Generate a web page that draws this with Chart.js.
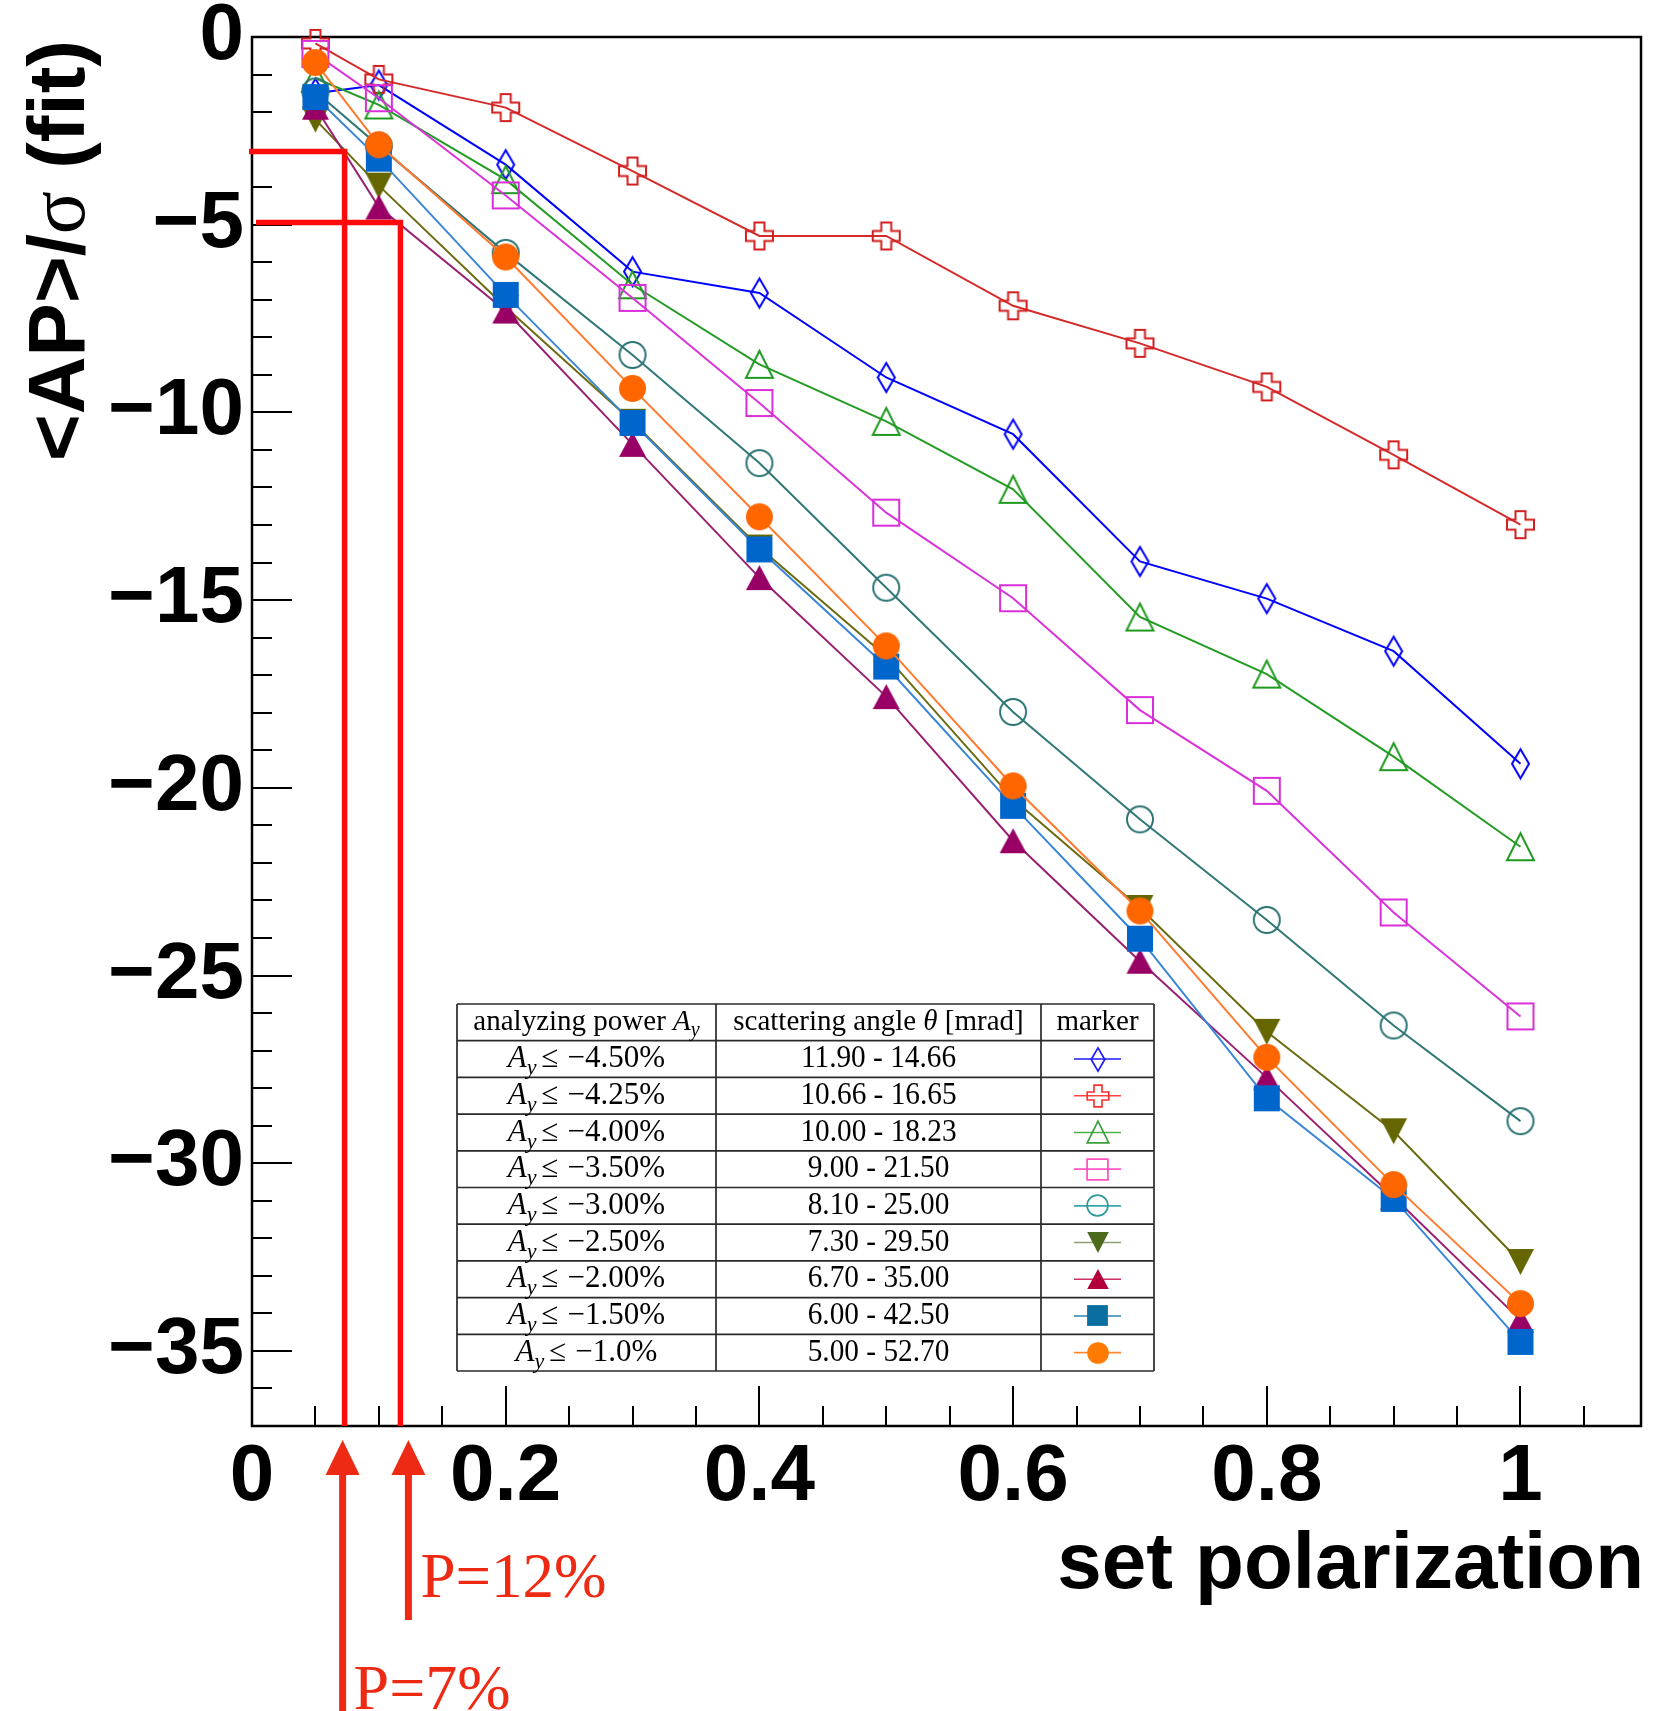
<!DOCTYPE html>
<html>
<head>
<meta charset="utf-8">
<script src="https://cdn.jsdelivr.net/npm/chart.js@4.4.1/dist/chart.umd.min.js"></script>
<style>
html,body{margin:0;padding:0;background:#fff;}
#wrap{position:relative;width:1667px;height:1711px;overflow:hidden;}
canvas{display:block;}
</style>
</head>
<body>
<div id="wrap"><canvas id="c" width="1667" height="1711"></canvas></div>
<script>
// ---------------- data ----------------
const polarization = [0.05, 0.1, 0.2, 0.3, 0.4, 0.5, 0.6, 0.7, 0.8, 0.9, 1.0];

const apAy450 = [-1.50, -1.28, -3.40, -6.25, -6.82, -9.07, -10.58, -13.97, -14.96, -16.36, -19.36];
const apAy425 = [-0.17, -1.13, -1.88, -3.57, -5.30, -5.30, -7.16, -8.16, -9.32, -11.13, -12.99];
const apAy400 = [-1.10, -1.81, -3.80, -6.60, -8.72, -10.24, -12.05, -15.45, -16.97, -19.17, -21.57];
const apAy350 = [-0.45, -1.63, -4.22, -6.95, -9.75, -12.67, -14.95, -17.93, -20.08, -23.32, -26.09];
const apAy300 = [-1.45, -2.90, -5.75, -8.47, -11.35, -14.67, -17.98, -20.84, -23.52, -26.33, -28.88];
const apAy250 = [-2.20, -3.96, -7.20, -10.25, -13.60, -16.50, -20.30, -23.20, -26.50, -29.15, -32.63];
const apAy200 = [-1.87, -4.53, -7.30, -10.85, -14.40, -17.57, -21.41, -24.62, -27.72, -30.90, -34.18];
const apAy150 = [-1.60, -3.24, -6.87, -10.28, -13.65, -16.77, -20.48, -24.02, -28.27, -30.95, -34.76];
const apAy100 = [-0.68, -2.87, -5.86, -9.36, -12.78, -16.22, -19.95, -23.28, -27.18, -30.57, -33.74];

const cutLabels = ['−4.50%', '−4.25%', '−4.00%', '−3.50%', '−3.00%', '−2.50%', '−2.00%', '−1.50%', '−1.0%'];
const angleRanges = ['11.90 - 14.66', '10.66 - 16.65', '10.00 - 18.23', '9.00 - 21.50', '8.10 - 25.00',
                     '7.30 - 29.50', '6.70 - 35.00', '6.00 - 42.50', '5.00 - 52.70'];

const xMajorTicks = [0, 0.2, 0.4, 0.6, 0.8, 1];
const xTickLabels = ['0', '0.2', '0.4', '0.6', '0.8', '1'];
const yMajorTicks = [0, -5, -10, -15, -20, -25, -30, -35];
const yTickLabels = ['0', '−5', '−10', '−15', '−20', '−25', '−30', '−35'];

const markedPolarization = [0.073, 0.117];
const markedSignificance = [-3.05, -4.94];
const markedLabels = ['P=7%', 'P=12%'];

const allSeries = [apAy450, apAy425, apAy400, apAy350, apAy300, apAy250, apAy200, apAy150, apAy100];

// ---------------- styles ----------------
const seriesStyles = [
  {color: '#0000ff', line: '#0000ff', marker: 'diamond'},
  {color: '#d21e1e', line: '#d42a2a', marker: 'cross'},
  {color: '#1f9a1f', line: '#249c24', marker: 'triOpen'},
  {color: '#d92ed9', line: '#d933d9', marker: 'squareOpen'},
  {color: '#2e7474', line: '#307777', marker: 'circleOpen'},
  {color: '#666600', line: '#6b6b12', marker: 'triDown'},
  {color: '#990066', line: '#992070', marker: 'triUp'},
  {color: '#0066cc', line: '#3a86d6', marker: 'square'},
  {color: '#ff6600', line: '#ff7a2e', marker: 'circle'}
];
const legendStyles = [
  {line: '#1a1aff', mark: '#1a1aff'},
  {line: '#ff4545', mark: '#ff3030'},
  {line: '#4caf50', mark: '#3d9e3d'},
  {line: '#ff55c4', mark: '#ff4fc0'},
  {line: '#3aa6a6', mark: '#2f9a9a'},
  {line: '#90a070', mark: '#4b6a1c'},
  {line: '#d0306a', mark: '#b3003b'},
  {line: '#2a80b0', mark: '#0a6fa0'},
  {line: '#ff8a30', mark: '#ff7a00'}
];

const MARKER_DIMS = {
  diamond: [17, 29], cross: [27, 27], triOpen: [27, 27], squareOpen: [26, 26], circleOpen: [26, 26],
  triDown: [27, 26], triUp: [27, 25], square: [26, 26], circle: [27, 27]
};

function makeMarker(kind, color, k, lw) {
  const pad = 3;
  const d = MARKER_DIMS[kind];
  const w = d[0] * k, h = d[1] * k;
  const c = document.createElement('canvas');
  c.width = Math.round(w + 2 * pad);
  c.height = Math.round(h + 2 * pad);
  const g = c.getContext('2d');
  g.translate(c.width / 2, c.height / 2);
  g.strokeStyle = color; g.fillStyle = color; g.lineWidth = lw; g.lineJoin = 'miter';
  const hw = w / 2, hh = h / 2;
  let filled = false;
  g.beginPath();
  switch (kind) {
    case 'diamond':
      g.moveTo(0, -hh); g.lineTo(hw, 0); g.lineTo(0, hh); g.lineTo(-hw, 0); g.closePath(); break;
    case 'cross': {
      const a = 5 * k;
      g.moveTo(-a, -hh); g.lineTo(a, -hh); g.lineTo(a, -a); g.lineTo(hw, -a); g.lineTo(hw, a);
      g.lineTo(a, a); g.lineTo(a, hh); g.lineTo(-a, hh); g.lineTo(-a, a); g.lineTo(-hw, a);
      g.lineTo(-hw, -a); g.lineTo(-a, -a); g.closePath(); break;
    }
    case 'triOpen': case 'triUp':
      g.moveTo(0, -hh); g.lineTo(hw, hh); g.lineTo(-hw, hh); g.closePath(); filled = kind === 'triUp'; break;
    case 'triDown':
      g.moveTo(-hw, -hh); g.lineTo(hw, -hh); g.lineTo(0, hh); g.closePath(); filled = true; break;
    case 'squareOpen': case 'square':
      g.rect(-hw, -hh, w, h); filled = kind === 'square'; break;
    case 'circleOpen': case 'circle':
      g.arc(0, 0, hw, 0, Math.PI * 2); filled = kind === 'circle'; break;
  }
  if (filled) g.fill(); else g.stroke();
  return c;
}

const datasets = allSeries.map((vals, i) => ({
  label: 'A_y ≤ ' + cutLabels[i],
  data: polarization.map((p, j) => ({x: p, y: vals[j]})),
  borderColor: seriesStyles[i].line,
  backgroundColor: seriesStyles[i].color,
  borderWidth: 2,
  pointStyle: makeMarker(seriesStyles[i].marker, seriesStyles[i].color, 1, 2),
  pointRadius: 14,
  pointHoverRadius: 14,
  tension: 0,
  fill: false,
  clip: false,
  order: allSeries.length - i
}));

const SANS = 'Liberation Sans, Arial, Helvetica, sans-serif';
const SERIF = 'Liberation Serif, Times New Roman, serif';

function drawRuns(ctx, runs, cx, baseline, sx, align) {
  let total = 0;
  runs.forEach(r => { ctx.font = r.font; r.w = ctx.measureText(r.t).width + (r.gap || 0); total += r.w; });
  ctx.save();
  ctx.translate(cx, baseline);
  ctx.scale(sx, 1);
  let x = align === 'left' ? 0 : -total / 2;
  ctx.textAlign = 'left';
  ctx.textBaseline = 'alphabetic';
  runs.forEach(r => {
    ctx.font = r.font;
    ctx.fillText(r.t, x + (r.pre || 0), r.dy || 0);
    x += r.w;
  });
  ctx.restore();
}

const framePlugin = {
  id: 'rootFrame',
  beforeDatasetsDraw(chart) {
    const {ctx, chartArea: a, scales: {x, y}} = chart;
    ctx.save();
    ctx.strokeStyle = '#000';
    ctx.lineWidth = 2.5;
    ctx.strokeRect(a.left, a.top, a.right - a.left, a.bottom - a.top);
    ctx.lineWidth = 2;
    ctx.beginPath();
    for (let v = 0; v >= y.min; v -= 1) {
      const py = Math.round(y.getPixelForValue(v));
      const len = (v % 5 === 0) ? 40 : 20;
      ctx.moveTo(a.left, py); ctx.lineTo(a.left + len, py);
    }
    for (let k = 0; k * 0.05 <= x.max + 1e-9; k++) {
      const px = Math.round(x.getPixelForValue(k * 0.05));
      const len = (k % 4 === 0) ? 40 : 20;
      ctx.moveTo(px, a.bottom); ctx.lineTo(px, a.bottom - len);
    }
    ctx.stroke();
    ctx.restore();
  },
  afterDraw(chart) {
    const {ctx, chartArea: a, scales: {x, y}} = chart;
    ctx.save();

    // ---- axis titles ----
    ctx.fillStyle = '#000';
    ctx.font = 'bold 80px ' + SANS;
    ctx.textAlign = 'right';
    ctx.textBaseline = 'alphabetic';
    ctx.fillText('set polarization', 1644, 1588);

    ctx.save();
    ctx.translate(84, 40);
    ctx.rotate(-Math.PI / 2);
    const tr = [
      {t: '<AP>/', font: 'bold 80px ' + SANS},
      {t: 'σ', font: '80px ' + SERIF},
      {t: ' (fit)', font: 'bold 80px ' + SANS}
    ];
    let tot = 0;
    tr.forEach(r => { ctx.font = r.font; r.w = ctx.measureText(r.t).width; tot += r.w; });
    let tx = -tot;
    ctx.textAlign = 'left';
    tr.forEach(r => { ctx.font = r.font; ctx.fillText(r.t, tx, 0); tx += r.w; });
    ctx.restore();

    // ---- legend table ----
    const cols = [457, 716, 1041, 1154];
    const top = 1004, rowH = 36.7, nRows = allSeries.length + 1;
    const bottom = top + rowH * nRows;
    ctx.fillStyle = '#fff';
    ctx.fillRect(cols[0], top, cols[3] - cols[0], bottom - top);
    ctx.strokeStyle = '#2a2a2a';
    ctx.lineWidth = 1.7;
    ctx.beginPath();
    for (let r = 0; r <= nRows; r++) {
      const yy = top + r * rowH;
      ctx.moveTo(cols[0], yy); ctx.lineTo(cols[3], yy);
    }
    cols.forEach(cx => { ctx.moveTo(cx, top); ctx.lineTo(cx, bottom); });
    ctx.stroke();

    ctx.fillStyle = '#000';
    const c1 = (cols[0] + cols[1]) / 2, c2 = (cols[1] + cols[2]) / 2, c3 = (cols[2] + cols[3]) / 2;
    drawRuns(ctx, [
      {t: 'analyzing power ', font: '29px ' + SERIF},
      {t: 'A', font: 'italic 29px ' + SERIF},
      {t: 'y', font: 'italic 20px ' + SERIF, dy: 6}
    ], c1, top + 26, 1);
    drawRuns(ctx, [
      {t: 'scattering angle ', font: '29px ' + SERIF},
      {t: 'θ', font: 'italic 29px ' + SERIF},
      {t: ' [mrad]', font: '29px ' + SERIF}
    ], c2, top + 26, 1);
    drawRuns(ctx, [{t: 'marker', font: '29px ' + SERIF}], c3, top + 26, 1);

    for (let i = 0; i < allSeries.length; i++) {
      const rt = top + (i + 1) * rowH;
      const base = rt + 26.5;
      drawRuns(ctx, [
        {t: 'A', font: 'italic 31px ' + SERIF},
        {t: 'y', font: 'italic 22px ' + SERIF, dy: 7, gap: 5},
        {t: '≤', font: '31px ' + SERIF, gap: 9},
        {t: cutLabels[i], font: '31px ' + SERIF}
      ], c1, base, 1);
      drawRuns(ctx, [{t: angleRanges[i], font: '31px ' + SERIF}], c2, base, 0.945);
      const my = rt + rowH / 2;
      ctx.strokeStyle = legendStyles[i].line;
      ctx.lineWidth = 1.6;
      ctx.beginPath(); ctx.moveTo(1074, my); ctx.lineTo(1121, my); ctx.stroke();
      const m = makeMarker(seriesStyles[i].marker, legendStyles[i].mark, 0.8, 1.7);
      ctx.drawImage(m, Math.round(c3 - m.width / 2), Math.round(my - m.height / 2));
    }

    // ---- red annotations ----
    const lineRed = '#ff0a0a', arrowRed = '#ee2a14';
    const hStart = [-3, 4], arrowShift = [-2, 8], shaftEnd = [1711, 1620];
    const labelDx = [9, 20], labelBase = [1709, 1597], labelSize = [64, 63];
    for (let i = 0; i < markedPolarization.length; i++) {
      const px = x.getPixelForValue(markedPolarization[i]);
      const py = y.getPixelForValue(markedSignificance[i]);
      ctx.strokeStyle = lineRed;
      ctx.lineWidth = 5.5;
      ctx.lineCap = 'butt';
      ctx.beginPath();
      ctx.moveTo(a.left + hStart[i], py);
      ctx.lineTo(px + 2.75, py);
      ctx.moveTo(px, py);
      ctx.lineTo(px, a.bottom);
      ctx.stroke();

      const ax = px + arrowShift[i];
      const tipY = a.bottom + 14, baseY = a.bottom + 49;
      ctx.fillStyle = arrowRed;
      ctx.beginPath();
      ctx.moveTo(ax, tipY); ctx.lineTo(ax + 17, baseY); ctx.lineTo(ax - 17, baseY); ctx.closePath();
      ctx.fill();
      ctx.fillRect(ax - 3.5, baseY - 1, 7, shaftEnd[i] - baseY + 1);

      ctx.font = labelSize[i] + 'px ' + SERIF;
      ctx.textAlign = 'left';
      ctx.textBaseline = 'alphabetic';
      ctx.fillText(markedLabels[i], px + labelDx[i], labelBase[i]);
    }
    ctx.restore();
  }
};

new Chart(document.getElementById('c'), {
  type: 'line',
  data: {datasets},
  options: {
    responsive: false,
    devicePixelRatio: 1,
    animation: false,
    events: [],
    layout: {padding: {left: 0, right: 26, top: 37, bottom: 0}, autoPadding: false},
    plugins: {legend: {display: false}, tooltip: {enabled: false}, title: {display: false}},
    scales: {
      x: {
        type: 'linear',
        min: 0,
        max: 1.095,
        afterBuildTicks: s => { s.ticks = xMajorTicks.map(v => ({value: v})); },
        afterFit: s => { s.height = 285; },
        grid: {display: false, drawTicks: false},
        border: {display: false},
        ticks: {
          autoSkip: false, maxRotation: 0, minRotation: 0, padding: 24, color: '#000',
          font: {family: SANS, weight: 'bold', size: 80, lineHeight: 0.7},
          callback: (v, i) => xTickLabels[i]
        }
      },
      y: {
        type: 'linear',
        min: -37,
        max: 0,
        afterBuildTicks: s => { s.ticks = yMajorTicks.map(v => ({value: v})); },
        afterFit: s => { s.width = 252; },
        grid: {display: false, drawTicks: false},
        border: {display: false},
        ticks: {
          autoSkip: false, padding: 8, color: '#000',
          font: {family: SANS, weight: 'bold', size: 80, lineHeight: 0.7},
          callback: (v, i) => yTickLabels[i]
        }
      }
    }
  },
  plugins: [framePlugin]
});
</script>
</body>
</html>
